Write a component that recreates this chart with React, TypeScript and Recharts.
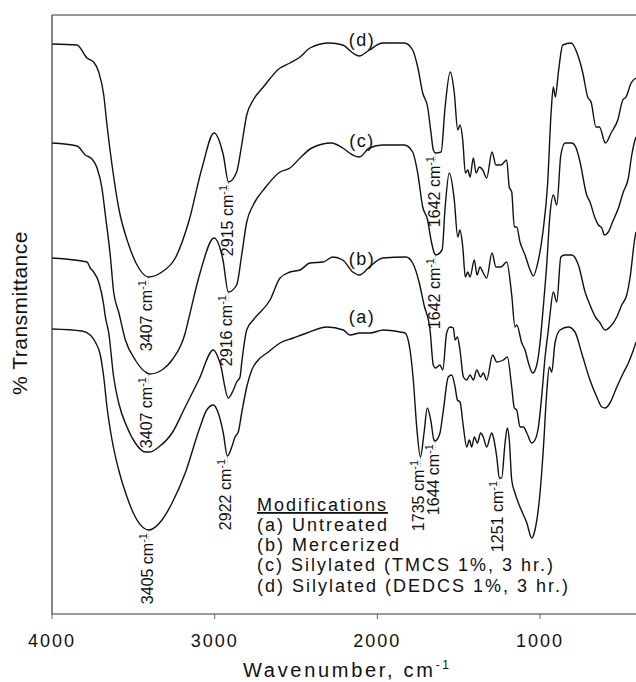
import React from 'react';
import { LineChart, Line, XAxis, YAxis, ReferenceLine, ReferenceDot, Customized } from 'recharts';

const FONT = '"Liberation Sans", Arial, Helvetica, sans-serif';

type Pt = [number, number];

// x: wavenumber (cm-1), y: relative transmittance (arbitrary, stacked)
const curveA: Pt[] = [
  [4000, 285], [3816, 283], [3765, 279], [3734, 272], [3703, 259], [3682, 237], [3662, 207], [3631, 174],
  [3590, 144], [3539, 117], [3488, 97], [3436, 86], [3405, 84], [3324, 94], [3262, 111], [3181, 141],
  [3090, 187], [3049, 204], [3008, 209], [2978, 201], [2947, 181], [2922, 158], [2895, 167], [2875, 177],
  [2855, 182], [2834, 201], [2803, 227], [2772, 244], [2732, 254], [2670, 262], [2598, 271], [2517, 276],
  [2434, 281], [2311, 287], [2209, 284], [2168, 279], [2107, 281], [2045, 281], [1963, 284], [1861, 282],
  [1830, 281], [1799, 264], [1779, 234], [1758, 187], [1735, 157], [1713, 181], [1693, 206], [1672, 194],
  [1652, 174], [1644, 173], [1631, 175], [1615, 181], [1594, 204], [1564, 237], [1543, 239], [1522, 227],
  [1508, 214], [1492, 212], [1471, 187], [1451, 167], [1434, 174], [1420, 167], [1404, 177], [1385, 171],
  [1365, 181], [1349, 177], [1328, 167], [1297, 181], [1287, 177], [1266, 157], [1250, 136], [1236, 136],
  [1215, 171], [1201, 186], [1189, 174], [1174, 134], [1154, 121], [1123, 107], [1081, 91], [1051, 76],
  [1031, 84], [1000, 121], [980, 164], [959, 221], [943, 247], [928, 242], [908, 271], [877, 284],
  [826, 287], [785, 282], [744, 261], [693, 234], [651, 217], [620, 207], [600, 206], [570, 211],
  [528, 227], [488, 241], [457, 251], [426, 264], [410, 272],
];

const curveB: Pt[] = [
  [4000, 356], [3785, 352], [3765, 346], [3744, 342], [3713, 332], [3682, 309], [3674, 299], [3651, 281],
  [3621, 237], [3590, 211], [3539, 187], [3488, 171], [3426, 162], [3400, 162], [3344, 167], [3262, 181],
  [3181, 207], [3098, 234], [3008, 264], [2967, 251], [2916, 216], [2885, 224], [2865, 232], [2844, 237],
  [2834, 251], [2803, 284], [2763, 294], [2660, 314], [2598, 336], [2537, 342], [2475, 344], [2414, 351],
  [2332, 352], [2274, 357], [2213, 354], [2151, 342], [2111, 339], [2049, 347], [1967, 356], [1824, 357],
  [1783, 351], [1742, 331], [1713, 309], [1676, 284], [1656, 249], [1642, 246], [1615, 249], [1598, 244],
  [1574, 281], [1553, 287], [1533, 286], [1522, 274], [1508, 277], [1492, 264], [1471, 237], [1451, 234],
  [1430, 239], [1410, 234], [1389, 244], [1365, 237], [1349, 241], [1328, 234], [1291, 259], [1266, 252],
  [1226, 254], [1201, 257], [1174, 227], [1158, 206], [1143, 204], [1123, 187], [1102, 187], [1081, 181],
  [1051, 171], [1031, 174], [1010, 187], [990, 217], [969, 257], [949, 284], [939, 299], [918, 322],
  [897, 312], [872, 357], [850, 359], [805, 359], [764, 349], [723, 322], [693, 309], [656, 296],
  [635, 292], [600, 284], [570, 287], [528, 297], [498, 309], [467, 319], [447, 336], [416, 377], [410, 382],
];

const curveC: Pt[] = [
  [4000, 471], [3846, 468], [3795, 459], [3754, 455], [3723, 446], [3693, 426], [3672, 399], [3642, 359],
  [3621, 322], [3590, 302], [3549, 274], [3488, 254], [3426, 242], [3400, 240], [3324, 244], [3262, 254],
  [3181, 281], [3160, 295], [3090, 341], [3004, 376], [2949, 354], [2916, 322], [2865, 329], [2834, 359],
  [2803, 392], [2763, 409], [2691, 426], [2598, 442], [2537, 446], [2475, 456], [2403, 466], [2281, 471],
  [2213, 466], [2151, 459], [2111, 457], [2049, 466], [1967, 469], [1834, 469], [1783, 462], [1752, 441],
  [1721, 407], [1691, 394], [1670, 374], [1650, 361], [1642, 359], [1602, 364], [1584, 405], [1558, 441],
  [1527, 414], [1506, 377], [1492, 384], [1475, 367], [1459, 337], [1444, 342], [1430, 337], [1404, 354],
  [1387, 339], [1369, 347], [1352, 342], [1328, 336], [1295, 361], [1271, 347], [1240, 347], [1205, 352],
  [1174, 319], [1154, 287], [1143, 289], [1112, 271], [1092, 264], [1071, 251], [1045, 241], [1020, 249],
  [1000, 271], [980, 307], [959, 349], [939, 399], [918, 419], [897, 409], [872, 459], [846, 471],
  [805, 471], [778, 466], [754, 452], [713, 419], [693, 412], [662, 396], [641, 389], [620, 386],
  [604, 379], [580, 382], [549, 394], [518, 406], [488, 422], [457, 436], [436, 459], [416, 474], [410, 477],
];

const curveD: Pt[] = [
  [4000, 570], [3846, 569], [3785, 556], [3744, 552], [3713, 542], [3682, 519], [3662, 489], [3631, 449],
  [3590, 406], [3528, 369], [3467, 346], [3407, 337], [3324, 342], [3242, 356], [3160, 392], [3078, 446],
  [3004, 481], [2947, 459], [2915, 432], [2865, 442], [2834, 469], [2803, 499], [2763, 514], [2701, 527],
  [2598, 546], [2537, 551], [2475, 557], [2414, 566], [2295, 571], [2213, 569], [2151, 561], [2111, 558],
  [2049, 564], [1967, 571], [1834, 571], [1783, 564], [1752, 547], [1721, 521], [1691, 507], [1670, 481],
  [1656, 464], [1642, 461], [1608, 462], [1584, 506], [1552, 542], [1527, 521], [1506, 484], [1492, 489],
  [1475, 474], [1459, 441], [1444, 444], [1430, 437], [1410, 456], [1393, 441], [1373, 447], [1352, 444],
  [1328, 436], [1295, 462], [1271, 449], [1240, 449], [1205, 454], [1189, 427], [1174, 422], [1158, 387],
  [1143, 387], [1123, 372], [1092, 359], [1061, 344], [1041, 338], [1014, 351], [983, 381], [953, 431],
  [932, 501], [918, 527], [906, 517], [887, 542], [860, 569], [809, 571], [768, 559], [737, 541],
  [707, 517], [686, 512], [656, 487], [635, 487], [598, 471], [563, 481], [522, 494], [491, 514],
  [471, 517], [440, 531], [410, 536],
];

const peaksA = [3405, 2922, 1735, 1644, 1251];
const peaksC = [3407, 2916, 1642];
const peaksD = [3407, 2915, 1642];

const curveNames = ['(a)', '(b)', '(c)', '(d)'];
const curveNameWavenumber = 2094;

const xTicks = [4000, 3000, 2000, 1000];
const legendTitle = 'Modifications';
const modifications = [
  '(a) Untreated',
  '(b) Mercerized',
  '(c) Silylated (TMCS 1%, 3 hr.)',
  '(d) Silylated (DEDCS 1%, 3 hr.)',
];

const series = [
  { id: 'a', pts: curveA, peaks: peaksA },
  { id: 'b', pts: curveB, peaks: [] as number[] },
  { id: 'c', pts: curveC, peaks: peaksC },
  { id: 'd', pts: curveD, peaks: peaksD },
];

const toRows = (c: Pt[]) => c.map(([x, y]) => ({ x, y }));
const nearest = (c: Pt[], w: number) =>
  c.reduce((b, p) => (Math.abs(p[0] - w) < Math.abs(b[0] - w) ? p : b), c[0]);

const center = (vb: any) => ({ cx: vb.x + (vb.width || 0) / 2, cy: vb.y + (vb.height || 0) / 2 });

const PeakLabel = ({ viewBox, text }: any) => {
  const { cx, cy } = center(viewBox);
  const bx = cx + 4;
  const by = cy + 3;
  return (
    <g>
      <line x1={cx} y1={cy + 1} x2={cx} y2={cy + 11} stroke="#aaa" strokeWidth={1} strokeDasharray="1 1.5" />
      <text
        transform={`rotate(-90 ${bx} ${by})`}
        x={bx}
        y={by}
        textAnchor="end"
        fontFamily={FONT}
        fontSize={16}
        fill="#111"
      >
        {text} cm<tspan dy={-6} fontSize={11}>-1</tspan>
      </text>
    </g>
  );
};

const CurveName = ({ viewBox, text }: any) => {
  const { cx, cy } = center(viewBox);
  return (
    <text x={cx} y={cy - 10} textAnchor="middle" fontFamily={FONT} fontSize={18} letterSpacing={1.5} fill="#111">
      {text}
    </text>
  );
};

const XTick = (p: any) => (
  <text x={p.x} y={p.y + 28} textAnchor="middle" fontFamily={FONT} fontSize={18} letterSpacing={2} fill="#111">
    {p.payload.value}
  </text>
);

const Overlay = () => (
  <g fontFamily={FONT} fill="#111">
    <text transform="rotate(-90 27 313)" x={27} y={313} textAnchor="middle" fontSize={21} letterSpacing={0.5}>
      % Transmittance
    </text>
    <text x={243} y={677} fontSize={20} letterSpacing={2.7}>
      Wavenumber, cm<tspan dy={-8} fontSize={12}>-1</tspan>
    </text>
    <text x={257} y={511} fontSize={18} letterSpacing={2} textDecoration="underline">
      {legendTitle}
    </text>
    {modifications.map((t, i) => (
      <text key={t} x={257} y={531 + i * 20.2} fontSize={18} letterSpacing={2}>
        {t}
      </text>
    ))}
  </g>
);

export default function App() {
  return (
    <div style={{ position: 'absolute', left: 0, top: 0, width: 636, height: 682, overflow: 'hidden', background: '#fff' }}>
      <LineChart width={636} height={682} margin={{ top: 15, right: 0, bottom: 0, left: 0 }}>
        <XAxis
          type="number"
          dataKey="x"
          domain={[410, 4000]}
          reversed
          allowDataOverflow
          ticks={xTicks}
          height={68}
          tickSize={5}
          tickMargin={0}
          tick={XTick}
          axisLine={{ stroke: '#777', strokeWidth: 1.5 }}
          tickLine={{ stroke: '#666', strokeWidth: 1 }}
        />
        <YAxis
          type="number"
          domain={[0, 599]}
          allowDataOverflow
          width={52}
          tick={false}
          tickLine={false}
          axisLine={{ stroke: '#333', strokeWidth: 1.2 }}
        />
        <ReferenceLine y={599} stroke="#777" strokeWidth={1.5} />
        {series.map((s) => (
          <Line
            key={s.id}
            data={toRows(s.pts)}
            dataKey="y"
            type="monotone"
            stroke="#111"
            strokeWidth={1.4}
            dot={false}
            activeDot={false}
            isAnimationActive={false}
          />
        ))}
        {series.map((s) =>
          s.peaks.map((w) => (
            <ReferenceDot
              key={`${s.id}-${w}`}
              x={w}
              y={nearest(s.pts, w)[1]}
              r={0}
              fill="none"
              stroke="none"
              ifOverflow="visible"
              label={(p: any) => <PeakLabel viewBox={p.viewBox} text={String(w)} />}
            />
          ))
        )}
        {series.map((s, i) => (
          <ReferenceDot
            key={`name-${s.id}`}
            x={curveNameWavenumber}
            y={nearest(s.pts, curveNameWavenumber)[1]}
            r={0}
            fill="none"
            stroke="none"
            ifOverflow="visible"
            label={(p: any) => <CurveName viewBox={p.viewBox} text={curveNames[i]} />}
          />
        ))}
        <Customized component={Overlay} />
      </LineChart>
    </div>
  );
}
